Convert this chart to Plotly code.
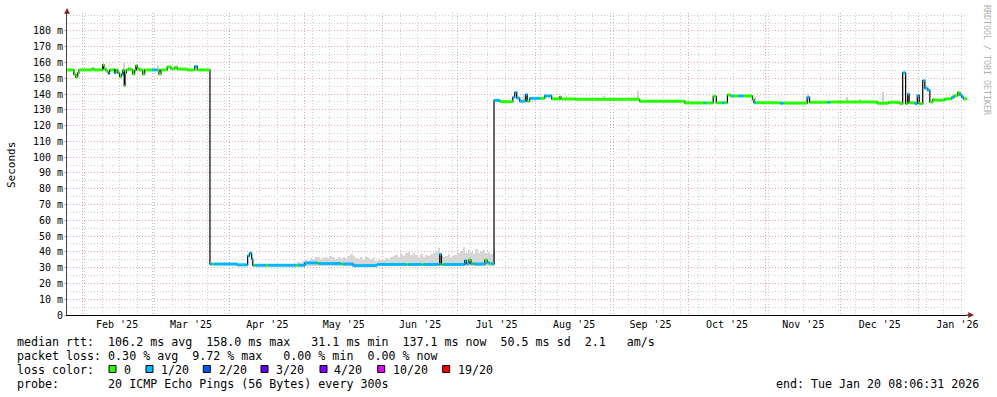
import plotly.graph_objects as go
import pandas as pd

# ---------------- data ----------------
LOSS_COLORS = ["#26ff00", "#00b8ff", "#0059ff", "#5e00ff", "#7e00ff", "#dd00ff", "#ff0000"]
LOSS_LABELS = ["0", "1/20", "2/20", "3/20", "4/20", "10/20", "19/20"]

START_TIME = "2025-01-26 00:00"
END_TIME = "2026-01-20 08:06:31"

# median rtt (ms) step points and loss class (index into LOSS_COLORS)
med_dates = [
    "2025-01-26 00:00", "2025-01-28 18:00", "2025-01-29 12:00", "2025-01-30 06:00", "2025-01-30 18:00",
    "2025-02-05 00:00", "2025-02-05 18:00", "2025-02-09 06:00", "2025-02-09 18:00", "2025-02-10 12:00",
    "2025-02-11 00:00", "2025-02-11 12:00", "2025-02-12 00:00", "2025-02-13 12:00", "2025-02-14 00:00",
    "2025-02-14 12:00", "2025-02-15 06:00", "2025-02-16 00:00", "2025-02-16 18:00", "2025-02-17 06:00",
    "2025-02-17 20:00", "2025-02-18 04:00", "2025-02-18 16:00", "2025-02-19 12:00", "2025-02-20 12:00",
    "2025-02-21 06:00", "2025-02-22 00:00", "2025-02-22 12:00", "2025-02-23 00:00", "2025-02-24 00:00",
    "2025-02-25 06:00", "2025-02-26 00:00", "2025-03-01 00:00", "2025-03-03 00:00", "2025-03-03 18:00",
    "2025-03-04 12:00", "2025-03-07 00:00", "2025-03-08 12:00", "2025-03-10 00:00", "2025-03-11 00:00",
    "2025-03-15 00:00", "2025-03-18 00:00", "2025-03-19 00:00",
    "2025-03-24 02:00", "2025-03-25 00:00", "2025-03-25 18:00", "2025-04-03 21:00", "2025-04-08 03:00",
    "2025-04-08 21:00", "2025-04-09 17:00", "2025-04-10 04:00", "2025-04-10 14:00", "2025-04-11 06:00",
    "2025-04-15 12:00", "2025-04-16 06:00", "2025-04-27 12:00", "2025-04-28 06:00", "2025-05-01 00:00",
    "2025-05-06 00:00", "2025-05-06 18:00", "2025-05-15 12:00", "2025-05-16 06:00", "2025-05-20 06:00",
    "2025-05-29 18:00", "2025-06-10 12:00", "2025-06-11 06:00", "2025-06-16 12:00", "2025-06-17 06:00",
    "2025-06-23 20:00", "2025-06-24 12:00", "2025-06-25 06:00", "2025-07-03 20:00", "2025-07-04 12:00",
    "2025-07-05 12:00", "2025-07-06 06:00", "2025-07-07 00:00", "2025-07-07 18:00", "2025-07-11 20:00",
    "2025-07-12 18:00", "2025-07-13 20:00", "2025-07-14 12:00",
    "2025-07-15 12:00", "2025-07-17 20:00", "2025-07-23 00:00", "2025-07-23 18:00", "2025-07-24 12:00",
    "2025-07-25 18:00", "2025-07-28 04:00", "2025-07-28 18:00", "2025-07-29 18:00", "2025-08-02 18:00",
    "2025-08-04 18:00", "2025-08-07 12:00", "2025-08-10 18:00", "2025-08-11 06:00", "2025-08-16 18:00",
    "2025-09-11 16:00", "2025-09-29 16:00", "2025-10-07 06:00", "2025-10-08 00:00", "2025-10-11 00:00",
    "2025-10-12 06:00", "2025-10-14 12:00", "2025-10-15 12:00", "2025-10-16 16:00", "2025-10-17 20:00",
    "2025-10-18 12:00", "2025-10-19 06:00", "2025-10-21 00:00", "2025-10-23 00:00", "2025-10-26 16:00",
    "2025-10-27 06:00", "2025-10-28 00:00", "2025-11-06 18:00", "2025-11-08 00:00", "2025-11-17 12:00",
    "2025-11-18 12:00", "2025-11-25 18:00", "2025-11-26 12:00", "2025-12-15 12:00", "2025-12-20 00:00",
    "2025-12-24 12:00", "2025-12-25 16:00", "2025-12-26 20:00", "2025-12-27 16:00", "2025-12-28 06:00",
    "2025-12-30 12:00", "2025-12-31 12:00", "2026-01-01 06:00", "2026-01-02 16:00", "2026-01-03 12:00",
    "2026-01-04 16:00", "2026-01-05 12:00", "2026-01-06 16:00", "2026-01-07 12:00", "2026-01-11 12:00",
    "2026-01-14 06:00", "2026-01-15 06:00", "2026-01-16 16:00", "2026-01-17 12:00", "2026-01-18 06:00",
    "2026-01-19 00:00",
]
med_vals = [
    155.3, 152.5, 150.8, 153.5, 155.3,
    156.0, 155.3, 158.5, 156.2, 155.0,
    154.0, 153.0, 155.3, 155.5, 153.5,
    155.3, 153.5, 151.0, 152.5, 155.0,
    145.3, 153.5, 155.3, 156.0, 155.3,
    152.8, 155.0, 158.0, 156.0, 155.3,
    152.7, 155.3, 155.3, 155.3, 152.7,
    155.3, 157.2, 156.0, 157.0, 155.8,
    155.3, 157.5, 155.3,
    32.3, 32.3, 32.3, 31.8, 37.5,
    39.2, 35.5, 31.5, 31.5, 31.5,
    31.5, 31.5, 31.5, 31.5, 33.0,
    32.8, 32.6, 32.3, 32.3, 31.3,
    32.0, 32.0, 32.0, 32.0, 32.0,
    38.5, 32.0, 32.0, 34.5, 32.5,
    35.0, 32.5, 32.5, 32.3, 34.8,
    33.0, 32.5, 32.5,
    136.0, 135.2, 138.0, 141.0, 137.5,
    135.5, 139.7, 135.5, 137.3, 137.3,
    138.8, 137.0, 138.2, 136.9, 136.7,
    135.5, 134.4, 134.4, 134.4, 138.5,
    134.5, 134.5, 134.5, 139.5, 138.8,
    138.8, 138.8, 138.8, 138.8, 136.5,
    134.5, 134.5, 134.2, 134.3, 137.9,
    134.8, 134.8, 135.0, 134.2, 134.8,
    134.0, 153.5, 134.0, 140.0, 134.5,
    134.0, 139.0, 134.0, 148.5, 143.7,
    142.5, 135.0, 136.5, 136.2, 137.0,
    138.0, 139.0, 140.9, 139.5, 138.0,
    137.0,
]
med_loss = [
    0, 0, 0, 0, 0,
    0, 0, 0, 0, 0,
    0, 1, 0, 0, 1,
    0, 0, 0, 1, 0,
    0, 0, 0, 0, 0,
    0, 0, 0, 0, 0,
    0, 0, 1, 0, 0,
    0, 0, 0, 0, 0,
    0, 1, 0,
    1, 0, 1, 1, 1,
    1, 1, 1, 0, 1,
    0, 1, 0, 1, 1,
    0, 1, 0, 1, 1,
    1, 0, 1, 0, 1,
    1, 0, 1, 1, 1,
    0, 1, 0, 1, 0,
    1, 0, 1,
    1, 0, 1, 1, 1,
    1, 1, 0, 1, 0,
    1, 0, 0, 0, 0,
    0, 0, 1, 0, 0,
    0, 1, 0, 0, 0,
    1, 0, 1, 0, 0,
    1, 0, 1, 0, 1,
    0, 1, 0, 0, 0,
    0, 1, 0, 1, 0,
    1, 1, 0, 1, 1,
    1, 0, 0, 0, 0,
    1, 0, 0, 1, 1,
    0,
]

# smoke (spread of the 20 pings) - daily upper envelope Apr 28 .. Jul 15
smoke_start = "2025-04-28 12:00"
smoke_base = 31.0
smoke_tops = [
    33.5, 33.0, 34.0,
    35.0, 34.5, 36.0, 35.5, 36.5, 37.0, 35.5, 36.0, 37.0, 36.0,
    37.6, 36.5, 35.5, 36.8, 36.3, 37.0, 36.0, 37.2, 38.6, 37.5,
    36.0, 35.5, 36.8, 35.0, 37.0, 36.0, 35.2, 36.5, 34.5, 35.5, 35.0,
    34.8, 36.0, 35.2, 36.5, 37.5, 38.0, 37.0, 38.6, 37.5, 39.0,
    40.0, 38.0, 39.5, 38.0, 37.0, 38.5, 36.5, 38.0, 37.5, 38.6,
    39.0, 40.5, 42.5, 38.0, 37.0, 37.5, 38.5, 36.5, 37.8, 38.0,
    39.0, 40.5, 42.8, 39.5, 41.5, 40.0, 38.6, 42.0, 39.0, 40.5,
    41.0, 39.5, 40.0, 38.8, 41.5,
]
# isolated smoke spikes
spike_dates = ["2025-02-17 18:00", "2025-03-03 06:00", "2025-07-24 18:00", "2025-07-27 12:00",
               "2025-08-28 12:00", "2025-09-11 00:00", "2025-10-27 18:00", "2025-11-18 00:00",
               "2025-12-03 12:00", "2025-12-08 12:00", "2025-12-17 22:00"]
spike_lo = [154.0, 155.0, 137.0, 136.0, 136.5, 136.5, 134.5, 134.5, 134.5, 134.5, 134.5]
spike_hi = [159.7, 158.4, 142.0, 140.0, 139.0, 142.0, 138.3, 139.8, 138.3, 137.0, 141.5]

y_tickvals = [0, 10, 20, 30, 40, 50, 60, 70, 80, 90, 100, 110, 120, 130, 140, 150, 160, 170, 180]
y_ticktext = ["0", "10 m", "20 m", "30 m", "40 m", "50 m", "60 m", "70 m", "80 m", "90 m", "100 m",
              "110 m", "120 m", "130 m", "140 m", "150 m", "160 m", "170 m", "180 m"]

stats_lines = [
    "median rtt:  106.2 ms avg  158.0 ms max   31.1 ms min  137.1 ms now  50.5 ms sd  2.1   am/s",
    "packet loss: 0.30 % avg  9.72 % max   0.00 % min  0.00 % now",
    "loss color:",
    "probe:       20 ICMP Echo Pings (56 Bytes) every 300s",
]
end_text = "end: Tue Jan 20 08:06:31 2026"

# ---------------- geometry helpers ----------------
W, H = 997, 397
L, R, T, B = 67, 30, 13, 82
PW, PH = W - L - R, H - T - B


def px(x):
    return (x - L) / PW


def py(y):
    return (H - B - y) / PH


MONO = "DejaVu Sans Mono"
DAY = 86400000
TXT = 11.65

fig = go.Figure()

# smoke
smoke_x = pd.date_range(smoke_start, periods=len(smoke_tops), freq="D")
fig.add_trace(go.Bar(x=smoke_x, y=[t - smoke_base for t in smoke_tops], base=smoke_base,
                     width=DAY, marker=dict(color="#d6d6d6", line=dict(width=0)),
                     hoverinfo="skip"))
fig.add_trace(go.Bar(x=pd.to_datetime(spike_dates), y=[h - l for h, l in zip(spike_hi, spike_lo)],
                     base=spike_lo, width=DAY * 0.45,
                     marker=dict(color="#d0d0d0", line=dict(width=0)), hoverinfo="skip"))

# black median line
xs = med_dates + [END_TIME]
ys = med_vals + [med_vals[-1]]
fig.add_trace(go.Scatter(x=xs, y=ys, mode="lines",
                         line=dict(color="#000000", width=1.2, shape="hv"), hoverinfo="skip"))

# loss coloured bands
for c, col in enumerate(LOSS_COLORS):
    sx, sy = [], []
    for i, v in enumerate(med_vals):
        if med_loss[i] == c:
            sx += [xs[i], xs[i + 1], None]
            sy += [v, v, None]
    if sx:
        fig.add_trace(go.Scatter(x=sx, y=sy, mode="lines", connectgaps=False,
                                 line=dict(color=col, width=3), hoverinfo="skip"))

MAJ = "#e9a6a6"
MIN = "#cdcdcd"
DASH = "1px,2px"

fig.update_layout(
    width=W, height=H,
    margin=dict(l=L, r=R, t=T, b=B, autoexpand=False),
    paper_bgcolor="white", plot_bgcolor="white",
    showlegend=False, barmode="overlay", bargap=0,
    font=dict(family=MONO, size=10, color="#000"),
    xaxis=dict(
        type="date", range=[START_TIME, END_TIME],
        dtick="M1", tick0="2025-01-01", tickformat="%b '%y", ticklabelmode="period",
        showgrid=True, gridcolor=MAJ, griddash=DASH, gridwidth=1,
        ticks="", showline=True, linecolor="#000", linewidth=1, zeroline=False,
        tickfont=dict(family=MONO, size=10, color="#000"),
        minor=dict(dtick=7 * DAY, tick0="2025-01-26", showgrid=True,
                   gridcolor=MIN, griddash=DASH, gridwidth=1),
    ),
    yaxis=dict(
        range=[0, PH / 1.578], tickvals=y_tickvals, ticktext=y_ticktext,
        showgrid=True, gridcolor=MAJ, griddash=DASH, gridwidth=1,
        ticks="outside", ticklen=2, tickcolor=MAJ, ticklabelstandoff=-1,
        showline=True, linecolor="#444", linewidth=1, zeroline=False,
        tickfont=dict(family=MONO, size=10, color="#000"),
        minor=dict(dtick=5, showgrid=True, gridcolor=MIN, griddash=DASH, gridwidth=1),
    ),
)

ann = []
ann.append(dict(text="Seconds", x=px(11), y=py(165), xref="paper", yref="paper",
                textangle=-90, showarrow=False, xanchor="center", yanchor="middle",
                font=dict(family=MONO, size=11, color="#000")))
ann.append(dict(text="RRDTOOL / TOBI OETIKER", x=px(987), y=py(60), xref="paper", yref="paper",
                textangle=90, showarrow=False, xanchor="center", yanchor="middle",
                font=dict(family=MONO, size=8.3, color="#b0b0b0")))

line_y = [342, 356, 370, 384]
for t, yy in zip(stats_lines, line_y):
    ann.append(dict(text=t.replace(" ", "\u00a0"), x=px(16), y=py(yy), xref="paper", yref="paper",
                    showarrow=False, xanchor="left", yanchor="middle", borderpad=0,
                    font=dict(family=MONO, size=TXT, color="#000")))
ann.append(dict(text=end_text.replace(" ", "\u00a0"), x=px(980), y=py(384), xref="paper", yref="paper",
                showarrow=False, xanchor="right", yanchor="middle", borderpad=0,
                font=dict(family=MONO, size=TXT, color="#000")))

box_x = [109, 146, 203.3, 261, 320, 377.7, 442.7]
lab_x = [122.7, 160, 218.3, 275, 333.3, 391.7, 456.7]
shapes = []
for bx, lx, col, lab in zip(box_x, lab_x, LOSS_COLORS, LOSS_LABELS):
    shapes.append(dict(type="rect", xref="paper", yref="paper",
                       x0=px(bx), x1=px(bx + 7), y0=py(372.5), y1=py(365.5),
                       fillcolor=col, line=dict(color="#000", width=1)))
    ann.append(dict(text=lab, x=px(lx), y=py(370), xref="paper", yref="paper",
                    showarrow=False, xanchor="left", yanchor="middle", borderpad=0,
                    font=dict(family=MONO, size=TXT, color="#000")))

# axis arrows
ac = "#8b1a1a"
shapes.append(dict(type="path", xref="paper", yref="paper",
                   path=f"M {px(64.5)},{py(13.5)} L {px(67)},{py(8.5)} L {px(69.5)},{py(13.5)} Z",
                   fillcolor=ac, line=dict(color=ac, width=0.5)))
shapes.append(dict(type="line", xref="paper", yref="paper",
                   x0=px(967), x1=px(970), y0=py(315), y1=py(315), line=dict(color="#000", width=1)))
shapes.append(dict(type="path", xref="paper", yref="paper",
                   path=f"M {px(968.5)},{py(312.5)} L {px(973.5)},{py(315)} L {px(968.5)},{py(317.5)} Z",
                   fillcolor=ac, line=dict(color=ac, width=0.5)))

fig.update_layout(annotations=ann, shapes=shapes)
fig.write_html("out.html", config={"displayModeBar": False},
               post_script="document.body.style.margin='0';document.body.style.padding='0';"
                           "document.body.style.overflow='hidden';")
